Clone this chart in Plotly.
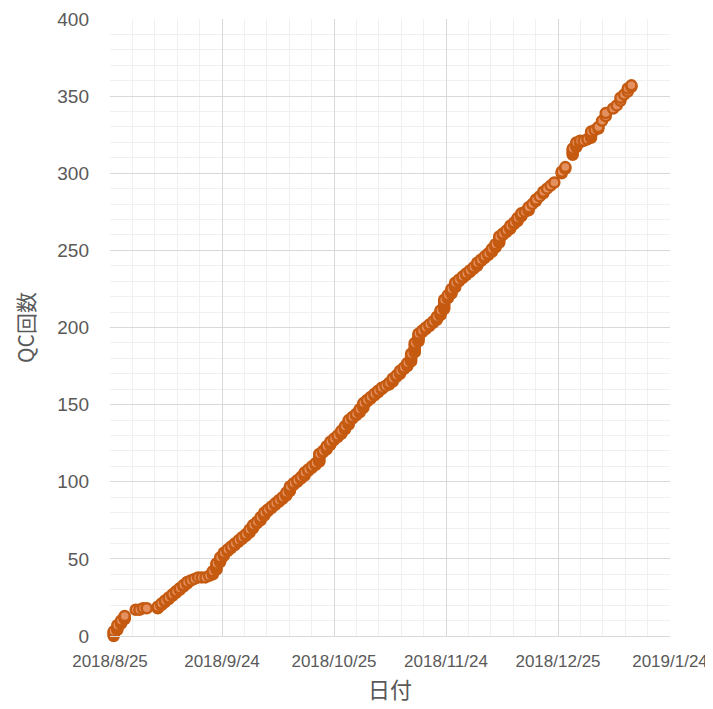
import pandas as pd
import plotly.graph_objects as go

qc_dates = [
    "2018-08-26", "2018-08-27", "2018-08-28", "2018-08-29",
    "2018-09-01", "2018-09-02", "2018-09-03", "2018-09-04",
    "2018-09-07", "2018-09-08", "2018-09-09", "2018-09-10", "2018-09-11",
    "2018-09-12", "2018-09-13", "2018-09-14", "2018-09-15", "2018-09-16",
    "2018-09-17", "2018-09-18", "2018-09-19", "2018-09-20", "2018-09-21",
    "2018-09-22", "2018-09-23", "2018-09-24", "2018-09-25", "2018-09-26",
    "2018-09-27", "2018-09-28", "2018-09-29", "2018-09-30", "2018-10-01",
    "2018-10-02", "2018-10-03", "2018-10-04", "2018-10-05", "2018-10-06",
    "2018-10-07", "2018-10-08", "2018-10-09", "2018-10-10", "2018-10-11",
    "2018-10-12", "2018-10-13", "2018-10-14", "2018-10-15", "2018-10-16",
    "2018-10-17", "2018-10-18", "2018-10-19", "2018-10-20", "2018-10-21",
    "2018-10-22", "2018-10-23", "2018-10-24", "2018-10-25", "2018-10-26",
    "2018-10-27", "2018-10-28", "2018-10-29", "2018-10-30", "2018-10-31",
    "2018-11-01", "2018-11-02", "2018-11-03", "2018-11-04", "2018-11-05",
    "2018-11-06", "2018-11-07", "2018-11-08", "2018-11-09", "2018-11-10",
    "2018-11-11", "2018-11-12", "2018-11-13", "2018-11-14", "2018-11-15",
    "2018-11-16", "2018-11-17", "2018-11-18", "2018-11-19", "2018-11-20",
    "2018-11-21", "2018-11-22", "2018-11-23", "2018-11-24", "2018-11-25",
    "2018-11-26", "2018-11-27", "2018-11-28", "2018-11-29", "2018-11-30",
    "2018-12-01", "2018-12-02", "2018-12-03", "2018-12-04", "2018-12-05",
    "2018-12-06", "2018-12-07", "2018-12-08", "2018-12-09", "2018-12-10",
    "2018-12-11", "2018-12-12", "2018-12-13", "2018-12-14", "2018-12-15",
    "2018-12-16", "2018-12-17", "2018-12-18", "2018-12-19", "2018-12-20",
    "2018-12-21", "2018-12-22", "2018-12-23", "2018-12-24",
    "2018-12-26", "2018-12-27", "2018-12-29", "2018-12-30",
    "2018-12-31", "2019-01-01", "2019-01-02", "2019-01-03",
    "2019-01-04", "2019-01-05", "2019-01-06", "2019-01-07",
    "2019-01-09", "2019-01-10", "2019-01-11", "2019-01-12", "2019-01-13", "2019-01-14",
]

qc_counts = [
    [0, 1, 2, 3], [4, 5, 6, 7], [8, 9, 10], [11, 12, 13],
    [17], [17], [18], [18],
    [18, 19], [20, 21], [22, 23], [24, 25], [26, 27],
    [28, 29], [30, 31], [32, 33], [34, 35], [36],
    [37], [38], [38], [38], [39],
    [40, 41, 42], [43, 44, 45, 46, 47], [48, 49, 50, 51], [52, 53, 54], [55, 56],
    [57, 58], [59, 60], [61, 62], [63, 64], [65, 66],
    [67, 68, 69], [70, 71, 72], [73, 74], [75, 76, 77], [78, 79, 80],
    [81, 82], [83, 84], [85, 86], [87, 88], [89, 90],
    [91, 92, 93], [94, 95, 96, 97], [98, 99], [100, 101], [102, 103],
    [104, 105, 106], [107, 108], [109, 110], [111, 112], [113, 114, 115, 116, 117, 118],
    [119, 120], [121, 122, 123], [124, 125, 126], [127, 128], [129, 130],
    [131, 132, 133], [134, 135, 136], [137, 138, 139, 140], [141, 142], [143, 144],
    [145, 146, 147], [148, 149, 150, 151], [152, 153], [154, 155], [156, 157],
    [158, 159], [160, 161], [162], [163, 164], [165, 166, 167],
    [168, 169], [170, 171, 172], [173, 174], [175, 176, 177], [178, 179, 180, 181, 182, 183],
    [184, 185, 186, 187, 188, 189, 190], [191, 192, 193, 194, 195, 196], [197, 198], [199, 200], [201, 202],
    [203, 204], [205, 206, 207], [208, 209, 210, 211], [212, 213, 214, 215, 216, 217, 218], [219, 220, 221],
    [222, 223, 224, 225], [226, 227, 228, 229], [230, 231], [232, 233], [234, 235],
    [236, 237], [238, 239], [240, 241, 242], [243, 244], [245, 246],
    [247, 248], [249, 250, 251], [252, 253, 254], [255, 256, 257, 258, 259], [260, 261],
    [262, 263], [264, 265, 266], [267, 268], [269, 270, 271], [272, 273, 274],
    [275], [276, 277, 278], [280], [282, 283], [285],
    [287, 288], [290], [292], [294],
    [300, 301], [303, 304], [312, 313, 314, 315, 316], [317, 318, 319, 320],
    [320, 321], [321], [322], [323, 324, 325, 326, 327],
    [328], [329, 330], [334], [337, 339],
    [342], [344], [347, 349], [351], [353, 355], [356, 357],
]
assert len(qc_dates) == len(qc_counts)

x_title = "日付"
y_title = "QC回数"

xs, ys = [], []
for d, cs in zip(qc_dates, qc_counts):
    for c in cs:
        xs.append(pd.Timestamp(d))
        ys.append(c)

DAY_MS = 86400000

fig = go.Figure()
fig.add_trace(go.Scatter(
    x=xs, y=ys, mode="markers",
    marker=dict(symbol="circle", size=10, color="#E49060",
                line=dict(color="#C55A11", width=2.5)),
    cliponaxis=False,
    showlegend=False,
))

fig.update_layout(
    width=705, height=701,
    margin=dict(l=102, r=43, t=11, b=73),
    paper_bgcolor="white", plot_bgcolor="white",
    font=dict(family="Liberation Sans, Noto Sans CJK JP, sans-serif", color="#595959"),
)

fig.update_xaxes(
    type="date", automargin=False,
    range=["2018-08-25", "2019-01-24 12:00"],
    tickmode="linear", tick0="2018-08-25", dtick=30.5 * DAY_MS,
    tickformat="%Y/%-m/%-d",
    tickfont=dict(size=17, color="#595959"),
    showgrid=True, gridcolor="#D9D9D9", gridwidth=1,
    minor=dict(tick0="2018-08-25", dtick=6.1 * DAY_MS, showgrid=True,
               gridcolor="#F0F0F0", gridwidth=1),
    showline=True, linecolor="#D9D9D9", linewidth=1,
    zeroline=False, ticks="", ticklabelstandoff=10,
    title=dict(text=x_title, font=dict(size=22, color="#595959", family="Noto Sans CJK JP"), standoff=12),
)

fig.update_yaxes(
    automargin=False,
    range=[0, 400],
    tickmode="linear", tick0=0, dtick=50,
    tickfont=dict(size=19, color="#595959"),
    showgrid=True, gridcolor="#D9D9D9", gridwidth=1,
    minor=dict(dtick=10, showgrid=True, gridcolor="#F0F0F0", gridwidth=1),
    showline=False, zeroline=False, ticks="", ticklabelstandoff=20,
    title=dict(text=y_title, font=dict(size=21, color="#595959", family="Noto Sans CJK JP"), standoff=16),
)

fig.write_html("out.html")
